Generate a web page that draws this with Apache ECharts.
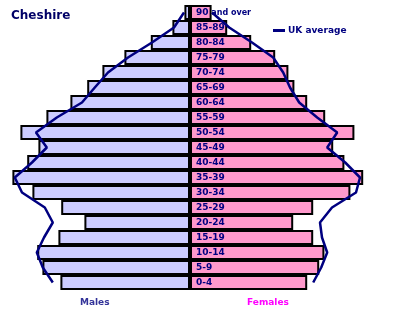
<!DOCTYPE html>
<html>
<head>
<meta charset="utf-8">
<script src="https://cdn.jsdelivr.net/npm/echarts@6/dist/echarts.min.js"></script>
<style>
html,body{margin:0;padding:0;background:#fff;}
#chart{width:398px;height:314px;}
</style>
</head>
<body>
<div id="chart"></div>
<script>
// Age bands from youngest (bottom) to oldest (top)
var ageBands = ['0-4','5-9','10-14','15-19','20-24','25-29','30-34','35-39','40-44','45-49','50-54','55-59','60-64','65-69','70-74','75-79','80-84','85-89','90 and over'];
// Cheshire, % of population (approx.)
var males   = [3.24,3.69,3.82,3.29,2.64,3.22,3.94,4.44,4.07,3.79,4.24,3.59,2.99,2.57,2.19,1.64,0.98,0.44,0.14];
var females = [2.93,3.23,3.36,3.08,2.58,3.08,4.01,4.33,3.86,3.58,4.11,3.38,2.93,2.61,2.46,2.13,1.53,0.93,0.54];
// UK average
var ukMales   = [3.43,3.68,3.83,3.65,3.43,3.63,4.20,4.38,3.95,3.58,3.85,3.33,2.70,2.38,2.05,1.55,0.95,0.40,0.15];
var ukFemales = [3.08,3.28,3.43,3.30,3.25,3.55,4.15,4.25,3.88,3.43,3.68,3.18,2.73,2.50,2.33,2.08,1.55,0.98,0.55];

var neg = function(a){ return a.map(function(v){ return -v; }); };
var navy = '#000080';

var chart = echarts.init(document.getElementById('chart'));
chart.setOption({
  animation: false,
  title: {
    text: 'Cheshire', left: 11, top: 10, padding: 0,
    textStyle: {fontFamily: 'DejaVu Sans', fontWeight: 'bold', fontSize: 12, color: '#000066'}
  },
  legend: {
    left: 273, top: 26, padding: 0, data: ['UK average'],
    icon: 'rect', itemWidth: 12, itemHeight: 3, itemGap: 4,
    textStyle: {fontFamily: 'DejaVu Sans', fontWeight: 'bold', fontSize: 9, color: navy, padding: [0, 0, 0, -2]}
  },
  grid: {left: 10, width: 360, top: 5, height: 285},
  xAxis: {
    type: 'value', min: -4.5, max: 4.5,
    axisLine: {show: false}, axisTick: {show: false}, axisLabel: {show: false}, splitLine: {show: false}
  },
  yAxis: {
    type: 'category', data: ageBands,
    axisLine: {show: false}, axisTick: {show: false}, axisLabel: {show: false}, splitLine: {show: false}
  },
  series: [
    {
      name: 'Males', type: 'bar', data: neg(males), barGap: '-100%', barCategoryGap: 0,
      itemStyle: {color: '#ccccff', borderColor: '#000', borderWidth: 2}, z: 2
    },
    {
      name: 'Females', type: 'bar', data: females, barGap: '-100%', barCategoryGap: 0,
      itemStyle: {color: '#ff99cc', borderColor: '#000', borderWidth: 2}, z: 2,
      label: {
        show: true, position: 'insideLeft', distance: 6,
        formatter: function(p){
          if (p.name === '90 and over') return '{b|90}{s| and over}';
          return '{b|' + p.name + '}';
        },
        rich: {
          b: {fontFamily: 'DejaVu Sans', fontWeight: 'bold', fontSize: 9, color: navy},
          s: {fontFamily: 'DejaVu Sans', fontWeight: 'bold', fontSize: 8, color: navy}
        }
      }
    },
    {
      name: 'UK average', type: 'line', data: neg(ukMales), showSymbol: false, symbol: 'none',
      lineStyle: {color: navy, width: 2.5}, itemStyle: {color: navy}, z: 5
    },
    {
      name: 'UK average', type: 'line', data: ukFemales, showSymbol: false, symbol: 'none',
      lineStyle: {color: navy, width: 2.5}, itemStyle: {color: navy}, z: 5
    }
  ],
  graphic: [
    {type: 'text', left: 80, top: 298, style: {text: 'Males', fontFamily: 'DejaVu Sans', fontWeight: 'bold', fontSize: 9, fill: '#333399'}},
    {type: 'text', left: 247, top: 298, style: {text: 'Females', fontFamily: 'DejaVu Sans', fontWeight: 'bold', fontSize: 9, fill: '#ff00ff'}}
  ]
});
</script>
</body>
</html>
